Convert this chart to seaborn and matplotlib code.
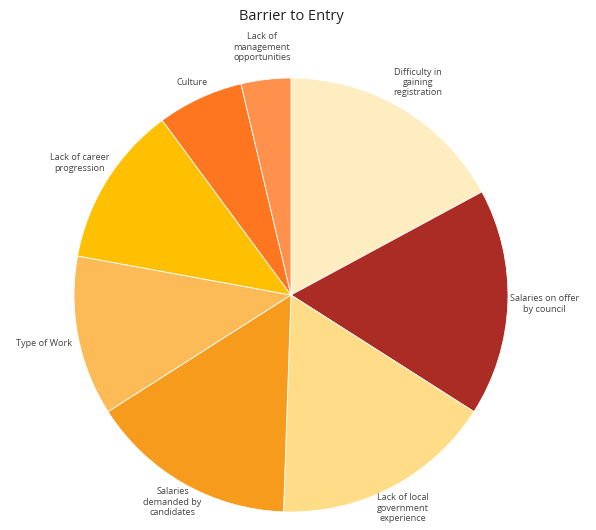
# -*- coding: utf-8 -*-

import matplotlib
matplotlib.use("Agg")
import matplotlib.pyplot as plt
import seaborn as sns
import numpy as np

# data (share of responses, clockwise from top)
barriers = ["Difficulty in\ngaining\nregistration",
            "Salaries on offer\nby council",
            "Lack of local\ngovernment\nexperience",
            "Salaries\ndemanded by\ncandidates",
            "Type of Work",
            "Lack of career\nprogression",
            "Culture",
            "Lack of\nmanagement\nopportunities"]
shares = [17.1, 16.9, 16.5, 15.4, 11.9, 12.0, 6.4, 3.7]
slice_colors = ["#FFEDC2", "#AB2C25", "#FFDD88", "#F79B1D",
                "#FDBB58", "#FFC002", "#FF7621", "#FF914D"]

sns.set_theme(style="white")
plt.rcParams['font.family'] = ['Open Sans', 'DejaVu Sans']

fig = plt.figure(figsize=(5.96, 5.30), dpi=100)
ax = fig.add_axes([0, 0, 1, 1])
palette = sns.color_palette(slice_colors)

wedges, texts = ax.pie(shares, labels=barriers, colors=palette,
                       startangle=90, counterclock=False,
                       labeldistance=1.14,
                       wedgeprops={"edgecolor": "white", "linewidth": 0.6},
                       textprops={"fontsize": 6.6, "color": "#444444"})

# label distance per slice, as in the original layout
label_r = [1.14, 1.17, 1.11, 1.10, 1.16, 1.15, 1.08, 1.15]
for w, t, r in zip(wedges, texts, label_r):
    mid = np.deg2rad((w.theta1 + w.theta2) / 2)
    t.set_position((r * np.cos(mid), r * np.sin(mid)))
    t.set_horizontalalignment("center")
    t.set_verticalalignment("center")
    t.set_multialignment("center")

ax.set_xlim(-291 / 217, 305 / 217)
ax.set_ylim(-235 / 217, 295 / 217)
ax.set_aspect("equal")
ax.axis("off")

fig.text(291 / 596, 1 - 17 / 530, "Barrier to Entry", ha="center", va="center",
         fontsize=10.5, color="#222222")

fig.savefig("out.png", dpi=100)
